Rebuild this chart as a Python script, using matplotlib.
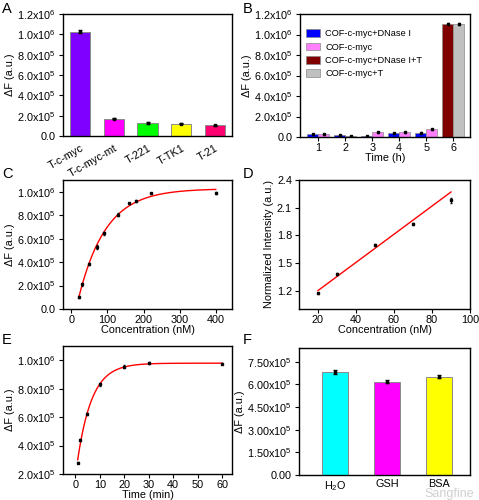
import numpy as np
import matplotlib
matplotlib.use('Agg')
import matplotlib.pyplot as plt
from matplotlib.ticker import FuncFormatter, MultipleLocator

plt.rcParams['font.family'] = ['Liberation Sans', 'DejaVu Sans']
plt.rcParams['font.size'] = 7.8
plt.rcParams['mathtext.fontset'] = 'custom'
plt.rcParams['mathtext.rm'] = 'Liberation Sans'
plt.rcParams['mathtext.it'] = 'Liberation Sans:italic'
plt.rcParams['mathtext.bf'] = 'Liberation Sans:bold'
plt.rcParams['axes.linewidth'] = 1.0
plt.rcParams['xtick.major.size'] = 3
plt.rcParams['ytick.major.size'] = 3
plt.rcParams['xtick.major.pad'] = 1.5
plt.rcParams['ytick.major.pad'] = 2

# panel A: selectivity
a_labels = ['T-c-myc', 'T-c-myc-mt', 'T-221', 'T-TK1', 'T-21']
a_values = [1.025e6, 1.72e5, 1.28e5, 1.2e5, 1.05e5]
a_errors = [1.5e4, 6e3, 8e3, 6e3, 5e3]
a_colors = ['#8000ff', '#ff00ff', '#00ff00', '#ffff00', '#ff0070']

# panel B: stability over time
b_times = [1, 2, 3, 4, 5, 6]
b_dnase = [3.0e4, 1.6e4, 5e3, 3.9e4, 4.3e4]
b_dnase_err = [4e3, 3e3, 2e3, 4e3, 4e3]
b_cof = [2.6e4, 1.1e4, 4.6e4, 4.6e4, 7.4e4]
b_cof_err = [4e3, 3e3, 4e3, 4e3, 4e3]
b_dnase_t = 1.1e6
b_dnase_t_err = 1.2e4
b_cof_t = 1.105e6
b_cof_t_err = 8e3
b_legend = ['COF-c-myc+DNase I', 'COF-c-myc', 'COF-c-myc+DNase I+T', 'COF-c-myc+T']
b_colors = ['#0000ff', '#ff80ff', '#800000', '#c0c0c0']

# panel C: concentration response
c_conc = [20, 30, 50, 70, 90, 130, 160, 180, 220, 400]
c_dF = [1.0e5, 2.1e5, 3.85e5, 5.3e5, 6.45e5, 8.05e5, 9.0e5, 9.2e5, 9.85e5, 9.9e5]
c_err = [8e3, 1.5e4, 1e4, 1.5e4, 1.5e4, 1e4, 8e3, 8e3, 6e3, 6e3]

# panel D: linear range
d_conc = [20, 30, 50, 70, 90]
d_norm = [1.17, 1.38, 1.69, 1.92, 2.18]
d_err = [0.008, 0.01, 0.01, 0.012, 0.03]
d_fit_x = [20, 90]
d_fit_y = [1.2, 2.27]

# panel E: kinetics
e_time = [1, 2, 5, 10, 20, 30, 60]
e_dF = [2.8e5, 4.4e5, 6.2e5, 8.3e5, 9.55e5, 9.8e5, 9.75e5]
e_err = [5e3, 8e3, 8e3, 1e4, 8e3, 6e3, 5e3]

# panel F: interference
f_labels = ['H$_2$O', 'GSH', 'BSA']
f_values = [6.8e5, 6.17e5, 6.5e5]
f_errors = [1.2e4, 1e4, 1e4]
f_colors = ['#00ffff', '#ff00ff', '#ffff00']

W, H = 479, 500


def px_axes(fig, left, right, top, bottom):
    return fig.add_axes([left / W, 1 - bottom / H, (right - left) / W, (bottom - top) / H])


def sci_formatter(ndec):
    def fmt(v, pos):
        if abs(v) < 1e-9:
            return '0.' + '0' * ndec
        e = int(np.floor(np.log10(abs(v)) + 1e-9))
        m = v / 10 ** e
        return '{:.{}f}x10$^{{{}}}$'.format(m, ndec, e)
    return FuncFormatter(fmt)


def exp_rise_fit(x, y):
    """ Least squares fit of y = a - b*exp(-x/t) with a scan over t. """
    x = np.asarray(x, float)
    y = np.asarray(y, float)
    best = None
    for t in np.linspace(1, 300, 3000):
        M = np.column_stack([np.ones_like(x), -np.exp(-x / t)])
        coef, res, _, _ = np.linalg.lstsq(M, y, rcond=None)
        r = np.sum((M @ coef - y) ** 2)
        if best is None or r < best[0]:
            best = (r, coef[0], coef[1], t)
    _, a, b, t = best
    return lambda xx: a - b * np.exp(-xx / t)


fig = plt.figure(figsize=(W / 100, H / 100), dpi=100)

edge = '#8a8a8a'

# A
ax = px_axes(fig, 63, 232, 14, 136)
pos = np.arange(1, len(a_values) + 1)
ax.bar(pos, a_values, width=0.6, color=a_colors, edgecolor=edge, linewidth=0.7)
ax.errorbar(pos, a_values, yerr=a_errors, fmt='s', color='black', ms=2, capsize=1.5, elinewidth=0.8)
ax.set_xlim(0.5, 5.5)
ax.set_ylim(0, 1.2e6)
ax.yaxis.set_major_locator(MultipleLocator(2e5))
ax.yaxis.set_major_formatter(sci_formatter(1))
ax.set_xticks(pos)
ax.set_xticklabels(a_labels, rotation=30, ha='right', rotation_mode='anchor')
ax.tick_params(axis='x', length=0, pad=5)
ax.set_ylabel('ΔF (a.u.)', labelpad=2)

# B
ax = px_axes(fig, 300, 470, 14, 137)
t = np.array(b_times[:5])
ax.bar(t - 0.2, b_dnase, width=0.4, color=b_colors[0], edgecolor=edge, linewidth=0.5, label=b_legend[0])
ax.bar(t + 0.2, b_cof, width=0.4, color=b_colors[1], edgecolor=edge, linewidth=0.5, label=b_legend[1])
ax.bar([b_times[5] - 0.2], [b_dnase_t], width=0.4, color=b_colors[2], edgecolor=edge, linewidth=0.5, label=b_legend[2])
ax.bar([b_times[5] + 0.2], [b_cof_t], width=0.4, color=b_colors[3], edgecolor=edge, linewidth=0.5, label=b_legend[3])
ax.errorbar(t - 0.2, b_dnase, yerr=b_dnase_err, fmt='s', color='black', ms=1.8, capsize=1, elinewidth=0.7)
ax.errorbar(t + 0.2, b_cof, yerr=b_cof_err, fmt='s', color='black', ms=1.8, capsize=1, elinewidth=0.7)
ax.errorbar([b_times[5] - 0.2, b_times[5] + 0.2], [b_dnase_t, b_cof_t], yerr=[b_dnase_t_err, b_cof_t_err],
            fmt='s', color='black', ms=1.8, capsize=1, elinewidth=0.7)
ax.set_xlim(0.33, 6.62)
ax.set_ylim(0, 1.2e6)
ax.set_xticks(b_times)
ax.yaxis.set_major_locator(MultipleLocator(2e5))
ax.yaxis.set_major_formatter(sci_formatter(1))
ax.set_xlabel('Time (h)', labelpad=-0.5)
ax.set_ylabel('ΔF (a.u.)', labelpad=2)
ax.legend(loc='upper left', bbox_to_anchor=(0.0, 0.92), frameon=False, fontsize=6.7,
          handlelength=1.6, handleheight=0.9, handletextpad=0.5, labelspacing=0.45, borderaxespad=0.2)

# C
ax = px_axes(fig, 63, 232, 180, 309)
fc = exp_rise_fit(c_conc, c_dF)
xx = np.linspace(min(c_conc), max(c_conc), 300)
ax.plot(xx, fc(xx), color='red', lw=1.0)
ax.errorbar(c_conc, c_dF, yerr=c_err, fmt='s', color='black', ms=2, capsize=1, elinewidth=0.7)
ax.set_xlim(-23, 445)
ax.set_ylim(0, 1.1e6)
ax.xaxis.set_major_locator(MultipleLocator(100))
ax.yaxis.set_major_locator(MultipleLocator(2e5))
ax.yaxis.set_major_formatter(sci_formatter(1))
ax.set_xlabel('Concentration (nM)', labelpad=-0.5)
ax.set_ylabel('ΔF (a.u.)', labelpad=2)

# D
ax = px_axes(fig, 299, 470, 180, 309)
ax.plot(d_fit_x, d_fit_y, color='red', lw=1.0)
ax.errorbar(d_conc, d_norm, yerr=d_err, fmt='s', color='black', ms=2, capsize=1, elinewidth=0.7)
ax.set_xlim(10, 100)
ax.set_ylim(1.0, 2.4)
ax.xaxis.set_major_locator(MultipleLocator(20))
ax.set_yticks([1.2, 1.5, 1.8, 2.1, 2.4])
ax.set_xlabel('Concentration (nM)', labelpad=-0.5)
ax.set_ylabel('Normalized Intensity (a.u.)', labelpad=2)

# E
ax = px_axes(fig, 63, 232, 346, 474)
fe = exp_rise_fit(e_time, e_dF)
xx = np.linspace(min(e_time), max(e_time), 300)
ax.plot(xx, fe(xx), color='red', lw=1.0)
ax.errorbar(e_time, e_dF, yerr=e_err, fmt='s', color='black', ms=2, capsize=1, elinewidth=0.7)
ax.set_xlim(-5, 64)
ax.set_ylim(2e5, 1.1e6)
ax.xaxis.set_major_locator(MultipleLocator(10))
ax.set_yticks([2e5, 4e5, 6e5, 8e5, 1e6])
ax.yaxis.set_major_formatter(sci_formatter(1))
ax.tick_params(axis='x', pad=1)
ax.set_xlabel('Time (min)', labelpad=0)
ax.set_ylabel('ΔF (a.u.)', labelpad=2)

# F
ax = px_axes(fig, 299, 470, 348, 475)
pos = np.arange(1, len(f_values) + 1)
ax.bar(pos, f_values, width=0.5, color=f_colors, edgecolor=edge, linewidth=0.7)
ax.errorbar(pos, f_values, yerr=f_errors, fmt='s', color='black', ms=2, capsize=1.5, elinewidth=0.8)
ax.set_xlim(0.31, 3.6)
ax.set_ylim(0, 8.4e5)
ax.set_yticks([0, 1.5e5, 3e5, 4.5e5, 6e5, 7.5e5])
ax.yaxis.set_major_formatter(sci_formatter(2))
ax.set_xticks(pos)
ax.set_xticklabels(f_labels)
ax.tick_params(axis='x', length=0, pad=3)
ax.set_ylabel('ΔF (a.u.)', labelpad=2)

# panel letters
for letter, x, y in [('A', 2, 2), ('B', 243, 2), ('C', 2, 167), ('D', 243, 167), ('E', 2, 333), ('F', 243, 333)]:
    fig.text(x / W, 1 - y / H, letter, fontsize=10.5, va='top', ha='left')

fig.text(474 / W, 0.0, 'Sangfine', fontsize=9, color='#d0d0d0', ha='right', va='bottom')

fig.savefig('out.png', dpi=100)
